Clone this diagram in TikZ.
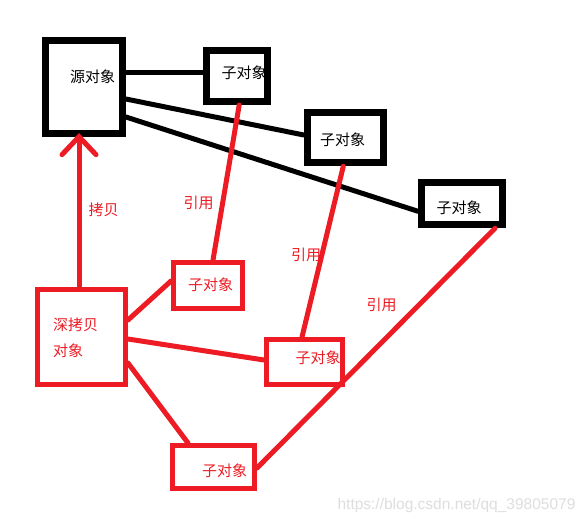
\documentclass[tikz,border=0pt]{standalone}
\usepackage{fontspec}
\newfontfamily\cjk{Noto Sans CJK SC}
\newfontfamily\wmfont{Liberation Sans}
\usetikzlibrary{arrows.meta, calc, positioning}
\definecolor{paintred}{RGB}{237,28,36}
\tikzset{
	pix/.style={x=1pt,y=-1pt},
	box/.style={draw=black,line width=7pt,inner sep=0pt},
	redbox/.style={draw=paintred,line width=5pt,inner sep=0pt},
	blacktext/.style={font=\cjk\fontsize{15}{18}\selectfont,text=black,inner sep=0pt},
	redtext/.style={font=\cjk\fontsize{15}{26}\selectfont,text=paintred,inner sep=0pt},
	link/.style={line width=5pt,black,line cap=round},
	ref/.style={line width=5pt,paintred,line cap=round},
	copyarrow/.style={ref,-{Straight Barb[length=18pt,width=34pt,line cap=round]}},
	watermark/.style={font=\wmfont\fontsize{15.5}{17}\selectfont,text=black!13,inner sep=0pt}
}
\begin{document}
\begin{tikzpicture}[pix]
	\fill[white] (0,0) rectangle (588,523);
	\useasboundingbox (0,0) rectangle (588,523);
	\node[box,	minimum width=77pt,	minimum height=93pt]	(src)	at (84,87)		{};
	\node[box,	minimum width=61pt,	minimum height=51pt]	(sub1)	at (236.7,76)	{};
	\node[box,	minimum width=76pt,	minimum height=50pt]	(sub2)	at (345.3,137.7)	{};
	\node[box,	minimum width=81pt,	minimum height=42pt]	(sub3)	at (462,203.8)	{};
	\node[redbox,	minimum width=88pt,	minimum height=95pt]	(deep)	at (81.5,337)	{};
	\node[redbox,	minimum width=69pt,	minimum height=46pt]	(dsub1)	at (208,285.5)	{};
	\node[redbox,	minimum width=76pt,	minimum height=45pt]	(dsub2)	at (304.5,362)	{};
	\node[redbox,	minimum width=82pt,	minimum height=43pt]	(dsub3)	at (213.5,467)	{};
	\node[blacktext]	(srct)	at (92.5,76.7)	{源对象};
	\node[blacktext]	(sub1t)	at (244,73)		{子对象};
	\node[blacktext]	(sub2t)	at (342.5,140)	{子对象};
	\node[blacktext]	(sub3t)	at (459,208)	{子对象};
	\node[redtext,align=left,anchor=west]	(deept)	at (53,338)	{深拷贝\\对象};
	\node[redtext]	(dsub1t)	at (210.5,285)	{子对象};
	\node[redtext]	(dsub2t)	at (318,358)	{子对象};
	\node[redtext]	(dsub3t)	at (224.7,471)	{子对象};
	\draw[link]	([yshift=14.5pt]src.east) -- ([yshift=3.5pt]sub1.west);
	\draw[link]	([yshift=-12pt]src.east) -- ([yshift=2.7pt]sub2.west);
	\draw[link]	([yshift=-30pt]src.east) -- ([yshift=-7.5pt]sub3.west);
	\draw[copyarrow]	([xshift=-2.5pt]deep.north) -- ([xshift=-5pt,yshift=4pt]src.south)
		node[redtext,midway,right=7pt]	(copylbl)	{拷贝};
	\draw[ref]	([yshift=17pt]deep.east) -- ([yshift=4.5pt]dsub1.west);
	\draw[ref]	([yshift=-2pt]deep.east) -- ([yshift=2pt]dsub2.west);
	\draw[ref]	([yshift=-26pt]deep.east) -- ([xshift=-25.5pt]dsub3.north);
	\draw[ref]	([xshift=2.5pt]sub1.south) -- ([xshift=5pt]dsub1.north);
	\draw[ref]	([xshift=-2pt]sub2.south) -- ([xshift=-2.5pt]dsub2.north);
	\draw[ref]	([xshift=-11pt]sub3.south east) -- ([yshift=-1pt]dsub3.east);
	\node[redtext]	(ref1)	at (198.5,203)	{引用};
	\node[redtext]	(ref2)	at (306,255)	{引用};
	\node[redtext]	(ref3)	at (381.5,305)	{引用};
	\node[watermark]	(wm)	at (456.5,505)	{https://blog.csdn.net/qq\_39805079};
\end{tikzpicture}
\end{document}
